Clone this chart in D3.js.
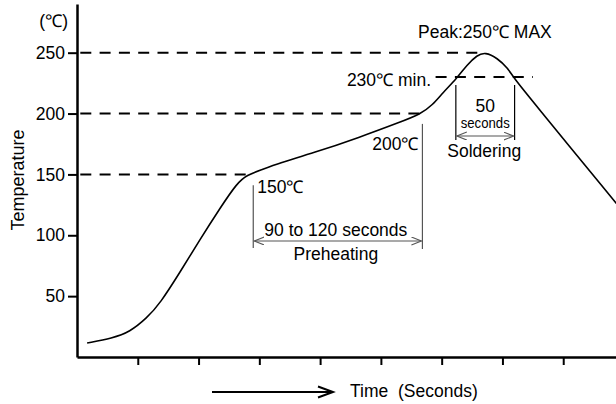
<!DOCTYPE html>
<html>
<head>
<meta charset="utf-8">
<script src="https://cdn.jsdelivr.net/npm/d3@7"></script>
<style>
  body { margin: 0; background: #fff; }
  svg { display: block; font-family: "Liberation Sans", Arial, Helvetica, sans-serif; }
  .axis text { font-size: 17.5px; fill: #000; }
  .axis line, .axis path { stroke: #000; }
</style>
</head>
<body>
<script>
var width = 616; // 画布宽度
var height = 404; // 画布高度

// reflow profile
var timeSec = [10, 35, 52, 69, 82, 102, 121, 141, 158, 168, 181, 200, 233, 279, 319, 339, 351, 361, 375, 385, 395, 403, 415, 425, 432, 447, 532, 540];
var tempC = [11.5, 15.5, 20.5, 32, 44, 70, 96, 122, 143, 149.5, 153.5, 159.5, 167.5, 180.5, 193, 199.5, 207, 217, 229, 240, 248, 250.5, 245.5, 237.5, 228.5, 213, 126.5, 118.5];

var yTicks = [50, 100, 150, 200, 250];
var xTicks = [60, 120, 180, 240, 300, 360, 420, 480];

// dashed reference levels and where each one stops
var refLevels = [250, 200, 150];
var refEnds = [396, 339, 171];
var minLevel = 230;
var minSpan = [354, 450];

// annotated spans (seconds)
var preheatSpan = [174, 341];
var solderSpan = [374, 432];

var svg = d3.select("body")
  .append("svg")
  .attr("width", width)
  .attr("height", height);

var x = d3.scaleLinear()
  .domain([0, 540])
  .range([77, 624]);

var y = d3.scaleLinear()
  .domain([0, 290])
  .range([357, 4]);

// arrow head for the span annotations
svg.append("defs")
  .append("marker")
  .attr("id", "head")
  .attr("markerUnits", "userSpaceOnUse")
  .attr("markerWidth", 12)
  .attr("markerHeight", 10)
  .attr("refX", 10)
  .attr("refY", 4)
  .attr("orient", "auto-start-reverse")
  .append("path")
  .attr("d", "M0,0L10,4L0,8")
  .attr("fill", "none")
  .attr("stroke", "#555")
  .attr("stroke-width", 1.1);

// dashed levels
svg.selectAll(".ref")
  .data(refLevels)
  .enter()
  .append("line")
  .attr("class", "ref")
  .attr("x1", x(0))
  .attr("x2", function(d, i) { return x(refEnds[i]); })
  .attr("y1", function(d) { return y(d); })
  .attr("y2", function(d) { return y(d); })
  .attr("stroke", "#000")
  .attr("stroke-width", 2)
  .attr("stroke-dasharray", "11 8.3")
  .attr("stroke-dashoffset", 16);

svg.append("line")
  .attr("x1", x(minSpan[0]))
  .attr("x2", x(minSpan[1]))
  .attr("y1", y(minLevel))
  .attr("y2", y(minLevel))
  .attr("stroke", "#000")
  .attr("stroke-width", 2)
  .attr("stroke-dasharray", "11 8.3");

// axes
svg.append("g")
  .attr("class", "axis")
  .attr("transform", "translate(" + x(0) + ",0)")
  .call(d3.axisLeft(y).tickValues(yTicks).tickSize(9).tickPadding(3).tickSizeOuter(0))
  .call(function(g) {
    g.select(".domain").attr("stroke-width", 2.5);
    g.selectAll(".tick line").attr("stroke-width", 2);
  });

svg.append("g")
  .attr("class", "axis")
  .attr("transform", "translate(0," + y(0) + ")")
  .call(d3.axisBottom(x).tickValues(xTicks).tickSize(8).tickFormat("").tickSizeOuter(0))
  .call(function(g) {
    g.select(".domain").attr("stroke-width", 2.5);
    g.selectAll(".tick line").attr("stroke-width", 2);
  });

// temperature curve
var line = d3.line()
  .x(function(d, i) { return x(timeSec[i]); })
  .y(function(d) { return y(d); })
  .curve(d3.curveBasis);

svg.append("path")
  .datum(tempC)
  .attr("d", line)
  .attr("fill", "none")
  .attr("stroke", "#000")
  .attr("stroke-width", 1.6);

// preheating span
var grey = "#555";
svg.append("line")
  .attr("x1", x(preheatSpan[0])).attr("x2", x(preheatSpan[0]))
  .attr("y1", y(141)).attr("y2", y(89.5))
  .attr("stroke", grey).attr("stroke-width", 1.2);
svg.append("line")
  .attr("x1", x(preheatSpan[1])).attr("x2", x(preheatSpan[1]))
  .attr("y1", y(191.5)).attr("y2", y(88.7))
  .attr("stroke", grey).attr("stroke-width", 1.2);
svg.append("line")
  .attr("x1", x(preheatSpan[0]) + 1).attr("x2", x(preheatSpan[1]) - 1)
  .attr("y1", y(95.3)).attr("y2", y(95.3))
  .attr("stroke", grey).attr("stroke-width", 1.1)
  .attr("marker-start", "url(#head)")
  .attr("marker-end", "url(#head)");

// soldering span
solderSpan.forEach(function(t) {
  svg.append("line")
    .attr("x1", x(t)).attr("x2", x(t))
    .attr("y1", y(223.5)).attr("y2", y(178.3))
    .attr("stroke", "#000").attr("stroke-width", 1.2);
});
svg.append("line")
  .attr("x1", x(solderSpan[0]) + 1).attr("x2", x(solderSpan[1]) - 1)
  .attr("y1", y(181.5)).attr("y2", y(181.5))
  .attr("stroke", grey).attr("stroke-width", 1.1)
  .attr("marker-start", "url(#head)")
  .attr("marker-end", "url(#head)");

// labels
function label(txt, px, py, anchor, size) {
  return svg.append("text")
    .text(txt)
    .attr("x", px)
    .attr("y", py)
    .attr("text-anchor", anchor)
    .attr("font-size", size || 17.5)
    .attr("fill", "#000")
    .style("white-space", "pre");
}

var preMid = (x(preheatSpan[0]) + x(preheatSpan[1])) / 2 - 2;
var solMid = (x(solderSpan[0]) + x(solderSpan[1])) / 2;

label("(℃)", 68, 27, "end");
label("Temperature", 0, 0, "middle", 18)
  .attr("transform", "translate(24,180) rotate(-90)");
label("Peak:250℃ MAX", 418, 38, "start");
label("230℃ min.", 431, 86, "end");
label("200℃", x(preheatSpan[1]) - 4, 150, "end");
label("150℃", x(preheatSpan[0]) + 4, 193, "start");
label("90 to 120 seconds", preMid, 236, "middle");
label("Preheating", preMid, 260, "middle");
label("50", solMid, 111.5, "middle", 17.5);
label("seconds", solMid, 128, "middle", 14)
  .attr("textLength", 49)
  .attr("lengthAdjust", "spacingAndGlyphs");
label("Soldering", solMid - 1, 157, "middle");
label("Time  (Seconds)", 350, 397, "start");

// time arrow under the axis
svg.append("line")
  .attr("x1", 212).attr("x2", 332)
  .attr("y1", 392).attr("y2", 392)
  .attr("stroke", "#000").attr("stroke-width", 2);
svg.append("path")
  .attr("d", "M318,386.5L333,392L318,397.5")
  .attr("fill", "none")
  .attr("stroke", "#000")
  .attr("stroke-width", 2);
</script>
</body>
</html>
